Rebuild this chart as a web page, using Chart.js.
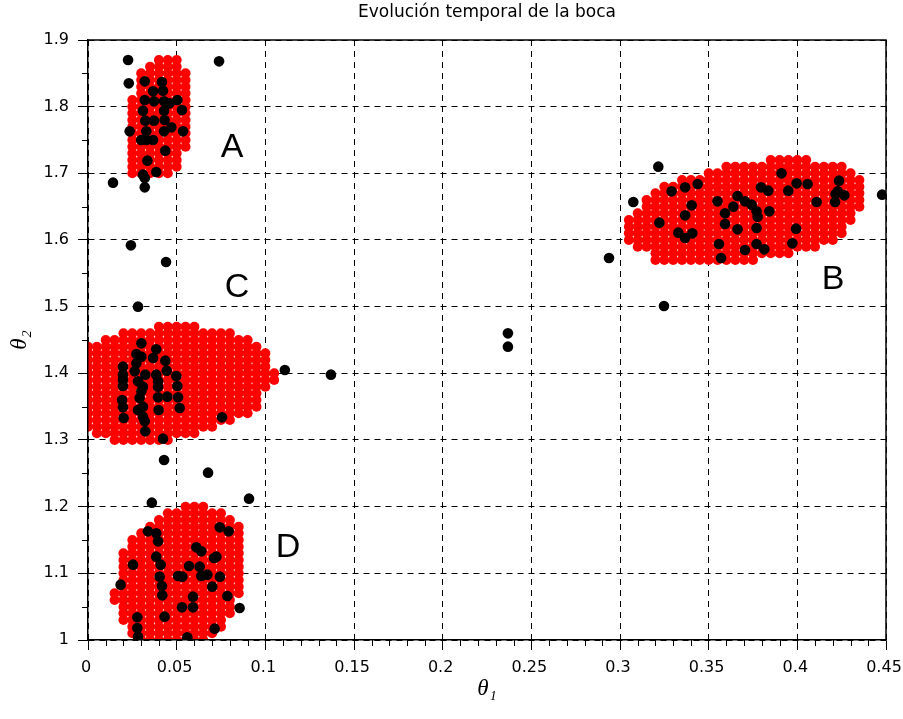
<!DOCTYPE html>
<html>
<head>
<meta charset="utf-8">
<title>Evolución temporal de la boca</title>
<script src="https://cdn.jsdelivr.net/npm/chart.js@4.4.1/dist/chart.umd.min.js"></script>
<style>
    html, body { margin: 0; padding: 0; background: #fff; }
    canvas { display: block; }
</style>
</head>
<body>
<canvas id="mouthChart" width="903" height="719"></canvas>
<script>
/* ===============================
   Evolución temporal de la boca
   theta1 / theta2 scatter
================================ */

const TITLE = 'Evolución temporal de la boca';

// axis ticks
const xTickValues = [0, 0.05, 0.1, 0.15, 0.2, 0.25, 0.3, 0.35, 0.4, 0.45];
const xTickLabels = ['0', '0.05', '0.1', '0.15', '0.2', '0.25', '0.3', '0.35', '0.4', '0.45'];
const yTickValues = [1, 1.1, 1.2, 1.3, 1.4, 1.5, 1.6, 1.7, 1.8, 1.9];
const yTickLabels = ['1', '1.1', '1.2', '1.3', '1.4', '1.5', '1.6', '1.7', '1.8', '1.9'];
const X_MINOR_STEP = 0.01;
const Y_MINOR_STEP = 0.05;

// red regions: lattice rows [theta2, theta1 first, theta1 last], spacing along theta1
const LATTICE_DX = 0.005;

const regionA = [
    [1.87, 0.040, 0.050], [1.86, 0.035, 0.050], [1.85, 0.030, 0.055], [1.84, 0.030, 0.055],
    [1.83, 0.030, 0.055], [1.82, 0.030, 0.055], [1.81, 0.025, 0.055], [1.80, 0.025, 0.055],
    [1.79, 0.025, 0.055], [1.78, 0.025, 0.055], [1.77, 0.025, 0.055], [1.76, 0.025, 0.055],
    [1.75, 0.025, 0.055], [1.74, 0.025, 0.055], [1.73, 0.025, 0.050], [1.72, 0.025, 0.050],
    [1.71, 0.025, 0.050], [1.70, 0.025, 0.045]
];

const regionB = [
    [1.72, 0.385, 0.405], [1.71, 0.360, 0.425], [1.70, 0.350, 0.430], [1.69, 0.335, 0.435],
    [1.68, 0.325, 0.435], [1.67, 0.320, 0.435], [1.66, 0.315, 0.435], [1.65, 0.315, 0.435],
    [1.64, 0.310, 0.430], [1.63, 0.305, 0.430], [1.62, 0.305, 0.425], [1.61, 0.305, 0.425],
    [1.60, 0.305, 0.420], [1.59, 0.310, 0.410], [1.58, 0.320, 0.395], [1.57, 0.320, 0.375]
];

const regionC = [
    [1.47, 0.040, 0.060], [1.46, 0.020, 0.080], [1.45, 0.010, 0.090], [1.44, 0.000, 0.095],
    [1.43, 0.000, 0.100], [1.42, 0.000, 0.100], [1.41, 0.000, 0.100], [1.40, 0.000, 0.105],
    [1.39, 0.000, 0.105], [1.38, 0.000, 0.100], [1.37, 0.000, 0.095], [1.36, 0.000, 0.095],
    [1.35, 0.000, 0.095], [1.34, 0.000, 0.090], [1.33, 0.000, 0.080], [1.32, 0.000, 0.070],
    [1.31, 0.005, 0.060], [1.30, 0.015, 0.045]
];

const regionD = [
    [1.20, 0.055, 0.065], [1.19, 0.045, 0.075], [1.18, 0.040, 0.080], [1.17, 0.035, 0.085],
    [1.16, 0.030, 0.085], [1.15, 0.025, 0.085], [1.14, 0.025, 0.085], [1.13, 0.020, 0.085],
    [1.12, 0.020, 0.085], [1.11, 0.020, 0.085], [1.10, 0.020, 0.085], [1.09, 0.020, 0.085],
    [1.08, 0.020, 0.085], [1.07, 0.015, 0.085], [1.06, 0.015, 0.080], [1.05, 0.020, 0.080],
    [1.04, 0.020, 0.080], [1.03, 0.020, 0.075], [1.02, 0.025, 0.075], [1.01, 0.025, 0.070],
    [1.00, 0.030, 0.065]
];

// black samples [theta1, theta2]
const samplesOutside = [
    [0.0226, 1.870], [0.0230, 1.835], [0.0141, 1.686], [0.0739, 1.868], [0.0242, 1.592],
    [0.0440, 1.567], [0.0282, 1.500], [0.2368, 1.460], [0.2368, 1.440], [0.2938, 1.573],
    [0.3248, 1.501], [0.4478, 1.668], [0.1110, 1.405], [0.1370, 1.398], [0.0429, 1.270],
    [0.0677, 1.251], [0.0908, 1.212], [0.0360, 1.206], [0.0855, 1.048], [0.0184, 1.083]
];

const samplesA = [
    [0.0320, 1.838], [0.0417, 1.837], [0.0367, 1.823], [0.0423, 1.824], [0.0320, 1.810],
    [0.0372, 1.808], [0.0429, 1.808], [0.0504, 1.810], [0.0460, 1.805], [0.0530, 1.795],
    [0.0310, 1.794], [0.0429, 1.794], [0.0323, 1.779], [0.0372, 1.779], [0.0432, 1.780],
    [0.0470, 1.769], [0.0536, 1.763], [0.0235, 1.763], [0.0429, 1.763], [0.0329, 1.763],
    [0.0300, 1.750], [0.0330, 1.750], [0.0367, 1.750], [0.0436, 1.734], [0.0335, 1.719],
    [0.0385, 1.702], [0.0310, 1.698], [0.0320, 1.693], [0.0320, 1.679]
];

const samplesB = [
    [0.3216, 1.710], [0.3075, 1.657], [0.3291, 1.673], [0.3367, 1.679], [0.3438, 1.684],
    [0.3404, 1.652], [0.3367, 1.637], [0.3222, 1.626], [0.3329, 1.611], [0.3408, 1.610],
    [0.3367, 1.603], [0.3550, 1.658], [0.3592, 1.640], [0.3639, 1.650], [0.3663, 1.666],
    [0.3705, 1.658], [0.3742, 1.653], [0.3770, 1.643], [0.3776, 1.635], [0.3592, 1.624],
    [0.3663, 1.616], [0.3770, 1.618], [0.3558, 1.594], [0.3570, 1.573], [0.3705, 1.585],
    [0.3770, 1.594], [0.3814, 1.586], [0.3842, 1.643], [0.3795, 1.679], [0.3836, 1.674],
    [0.3911, 1.700], [0.3949, 1.674], [0.3996, 1.685], [0.4058, 1.684], [0.3993, 1.617],
    [0.3972, 1.595], [0.4109, 1.657], [0.4235, 1.689], [0.4228, 1.673], [0.4216, 1.669],
    [0.4265, 1.667], [0.4213, 1.657]
];

const samplesC = [
    [0.0301, 1.445], [0.0273, 1.429], [0.0385, 1.436], [0.0367, 1.423], [0.0436, 1.419],
    [0.0444, 1.404], [0.0197, 1.410], [0.0263, 1.403], [0.0273, 1.415], [0.0301, 1.425],
    [0.0197, 1.398], [0.0197, 1.390], [0.0197, 1.381], [0.0323, 1.398], [0.0385, 1.398],
    [0.0395, 1.388], [0.0395, 1.380], [0.0498, 1.396], [0.0504, 1.381], [0.0301, 1.373],
    [0.0291, 1.363], [0.0395, 1.364], [0.0447, 1.365], [0.0508, 1.364], [0.0192, 1.360],
    [0.0197, 1.349], [0.0282, 1.345], [0.0310, 1.350], [0.0517, 1.348], [0.0398, 1.345],
    [0.0201, 1.333], [0.0310, 1.335], [0.0320, 1.328], [0.0323, 1.313], [0.0423, 1.302],
    [0.0756, 1.334], [0.0282, 1.388], [0.0310, 1.380]
];

const samplesD = [
    [0.0338, 1.163], [0.0385, 1.160], [0.0395, 1.148], [0.0743, 1.169], [0.0793, 1.163],
    [0.0611, 1.139], [0.0639, 1.133], [0.0711, 1.123], [0.0724, 1.125], [0.0254, 1.113],
    [0.0385, 1.125], [0.0410, 1.113], [0.0570, 1.111], [0.0630, 1.110], [0.0404, 1.095],
    [0.0508, 1.096], [0.0532, 1.095], [0.0639, 1.096], [0.0673, 1.098], [0.0744, 1.095],
    [0.0417, 1.081], [0.0701, 1.080], [0.0419, 1.067], [0.0592, 1.065], [0.0786, 1.066],
    [0.0530, 1.049], [0.0592, 1.049], [0.0278, 1.034], [0.0432, 1.035], [0.0278, 1.018],
    [0.0714, 1.017], [0.0282, 1.005], [0.0560, 1.004]
];

// region names, placed in data coordinates
const regionLabels = [
    { text: 'A', x: 0.0812, y: 1.738 },
    { text: 'B', x: 0.4201, y: 1.540 },
    { text: 'C', x: 0.0840, y: 1.528 },
    { text: 'D', x: 0.1128, y: 1.138 }
];

/**
 * Expand lattice rows into points
 */
function expandRows(rows) {
    const pts = [];
    rows.forEach(([y, x0, x1]) => {
        const n = Math.round((x1 - x0) / LATTICE_DX);
        for (let i = 0; i <= n; i++) pts.push({ x: x0 + i * LATTICE_DX, y });
    });
    return pts;
}

const toPoints = list => list.map(([x, y]) => ({ x, y }));

const redPoints = [regionA, regionB, regionC, regionD].flatMap(expandRows);
const blackPoints = [samplesOutside, samplesA, samplesB, samplesC, samplesD].flatMap(toPoints);

/* ── frame, minor ticks, title, region letters ── */
const decorPlugin = {
    id: 'decor',
    afterDatasetsDraw(chart) {
        const { ctx, scales: { x, y } } = chart;
        ctx.save();
        ctx.fillStyle = '#000';
        ctx.font = '34px "Liberation Sans", Arial, sans-serif';
        ctx.textAlign = 'center';
        ctx.textBaseline = 'middle';
        regionLabels.forEach(l => {
            ctx.fillText(l.text, x.getPixelForValue(l.x), y.getPixelForValue(l.y));
        });
        ctx.restore();
    },
    afterDraw(chart) {
        const { ctx, chartArea: a, scales: { x, y } } = chart;
        ctx.save();
        ctx.strokeStyle = '#000';
        ctx.lineWidth = 1;

        // minor ticks (outside only)
        ctx.beginPath();
        for (let i = 1; x.min + i * X_MINOR_STEP < x.max - 1e-9; i++) {
            if (i % 5 === 0) continue;
            const px = Math.round(x.getPixelForValue(x.min + i * X_MINOR_STEP)) + 0.5;
            ctx.moveTo(px, a.bottom);
            ctx.lineTo(px, a.bottom + 6);
        }
        for (let i = 1; y.min + i * Y_MINOR_STEP < y.max - 1e-9; i++) {
            if (i % 2 === 0) continue;
            const py = Math.round(y.getPixelForValue(y.min + i * Y_MINOR_STEP)) + 0.5;
            ctx.moveTo(a.left, py);
            ctx.lineTo(a.left - 6, py);
        }
        ctx.stroke();

        // top / right frame
        ctx.lineWidth = 1.5;
        ctx.beginPath();
        ctx.moveTo(a.left, a.top);
        ctx.lineTo(a.right, a.top);
        ctx.lineTo(a.right, a.bottom);
        ctx.stroke();

        // title
        ctx.fillStyle = '#000';
        ctx.font = '17px "DejaVu Sans", sans-serif';
        ctx.textAlign = 'center';
        ctx.textBaseline = 'alphabetic';
        ctx.fillText(TITLE, (a.left + a.right) / 2, 17);
        ctx.restore();
    }
};

const AXIS_FONT = { family: '"DejaVu Sans", sans-serif', size: 16 };
const THETA_FONT = { family: '"Liberation Serif", "DejaVu Serif", serif', size: 23, style: 'italic' };

new Chart(document.getElementById('mouthChart'), {
    type: 'scatter',
    data: {
        datasets: [
            {
                label: 'muestras',
                data: blackPoints,
                backgroundColor: '#000',
                borderWidth: 0,
                pointRadius: 5.3,
                clip: 0,
                order: 1
            },
            {
                label: 'regiones',
                data: redPoints,
                backgroundColor: '#ff0000',
                borderWidth: 0,
                pointRadius: 5,
                clip: 0,
                order: 2
            }
        ]
    },
    options: {
        responsive: false,
        animation: false,
        events: [],
        layout: { padding: { top: 40, right: 17, left: 0, bottom: 0 } },
        plugins: {
            legend: { display: false },
            tooltip: { enabled: false },
            title: { display: false }
        },
        scales: {
            x: {
                type: 'linear',
                min: 0,
                max: 0.45,
                afterBuildTicks: s => { s.ticks = xTickValues.map(v => ({ value: v })); },
                afterFit: s => { s.height = 79; s.paddingLeft = 0; s.paddingRight = 0; },
                ticks: {
                    color: '#000',
                    font: AXIS_FONT,
                    padding: 8,
                    maxRotation: 0,
                    labelOffset: -2,
                    callback: (v, i) => xTickLabels[i]
                },
                grid: { color: '#000', lineWidth: 1, tickLength: 10, tickColor: '#000' },
                border: { display: true, color: '#000', width: 1.5, dash: [6, 5], z: 1 },
                title: { display: true, text: 'θ₁', color: '#000', font: THETA_FONT, padding: { top: 0, bottom: 16 } }
            },
            y: {
                type: 'linear',
                min: 1,
                max: 1.9,
                afterBuildTicks: s => { s.ticks = yTickValues.map(v => ({ value: v })); },
                afterFit: s => { s.width = 88; s.paddingTop = 0; s.paddingBottom = 0; },
                ticks: {
                    color: '#000',
                    font: AXIS_FONT,
                    padding: 9,
                    callback: (v, i) => yTickLabels[i]
                },
                grid: { color: '#000', lineWidth: 1, tickLength: 10, tickColor: '#000' },
                border: { display: true, color: '#000', width: 1.5, dash: [6, 5], z: 1 },
                title: { display: true, text: 'θ₂', color: '#000', font: THETA_FONT, padding: { top: 6, bottom: 0 } }
            }
        }
    },
    plugins: [decorPlugin]
});
</script>
</body>
</html>
